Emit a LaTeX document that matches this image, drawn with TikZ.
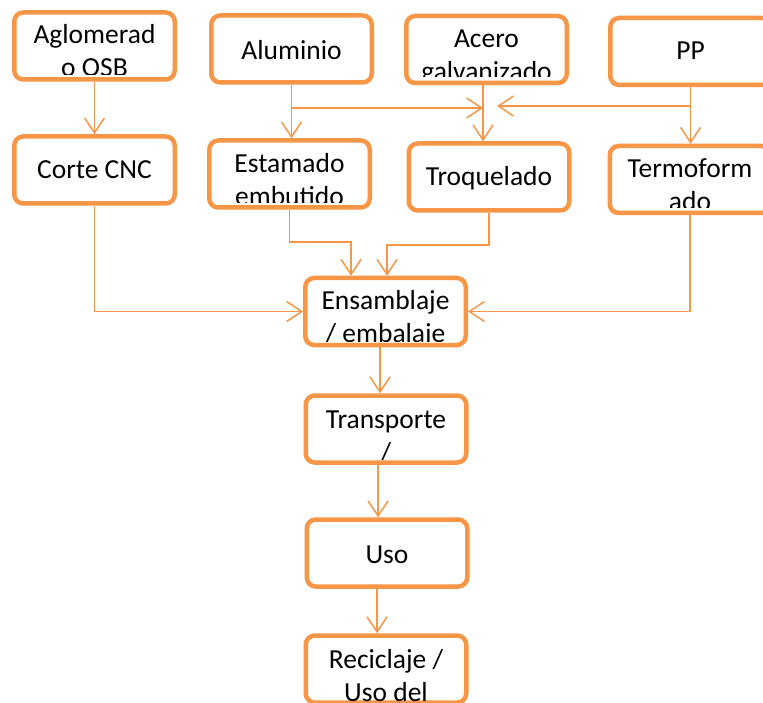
\documentclass[tikz,border=0pt]{standalone}
\usepackage{fontspec}
\setmainfont{Carlito}
\usetikzlibrary{arrows.meta}
\definecolor{accent}{HTML}{F79646}
\tikzset{
  procbox/.style={draw=accent, line width=4.5pt, rounded corners=9pt, fill=white,
    minimum width=160.5pt, minimum height=67pt, inner sep=0pt},
  boxtext/.style={font=\fontsize{27.5}{33}\selectfont, align=center,
    anchor=base, inner sep=0pt, text=black},
  flow/.style={draw=accent, line width=1.5pt,
    -{Straight Barb[length=15pt,width=20pt,line width=1.5pt]}},
}
% #1 name, #2 cx, #3 cy, #4 baseline of the last line, #5 lower clip edge, #6 text
\newcommand\procstep[6]{%
  \node[procbox] (#1) at (#2,#3) {};
  \begin{scope}
    \clip (#2-78,#3-32) rectangle (#2+78,#5);
    \node[boxtext] (#1-t) at (#2,#4) {#6};
  \end{scope}
}
\begin{document}
\begin{tikzpicture}[x=1pt,y=-1pt]
  \fill[white] (0,0) rectangle (763,703);
  \clip (0,0) rectangle (763,703);

  % raw materials
  \procstep{agl}{94.5}{46}{77}{75}{Aglomerad\\o OSB}
  \procstep{alu}{291.5}{49}{60}{78}{Aluminio}
  \procstep{ace}{486.5}{49.5}{81}{77}{Acero\\galvanizado}
  \procstep{pp}{690.5}{51.5}{60}{81}{PP}
  % forming processes
  \procstep{cnc}{94.5}{170}{179}{199}{Corte CNC}
  \procstep{est}{289.5}{174}{206}{203}{Estamado\\embutido}
  \procstep{tro}{489}{177}{186}{206}{Troquelado}
  \procstep{ter}{690}{179.5}{211}{208}{Termoform\\ado}
  % life-cycle chain
  \procstep{ens}{385.5}{311.5}{342}{341}{Ensamblaje\\/ embalaje}
  \procstep{tra}{386}{429}{461}{459}{Transporte\\/}
  \procstep{uso}{387}{553}{563}{583}{Uso}
  \procstep{rec}{386}{669}{701}{705}{Reciclaje /\\Uso del}

  % junction points
  \coordinate (alj) at (291.5,108);
  \coordinate (acj) at (483,108);
  \coordinate (ppj) at (690.5,106);
  \coordinate (ppe) at (497,106);
  \coordinate (estj) at (351,242);
  \coordinate (troj) at (387,245);
  \coordinate (xa) at (380,0);
  \coordinate (xb) at (378,0);
  \coordinate (xc) at (377,0);

  % connectors
  \draw[flow] (agl.south) -- (cnc.north);
  \draw[flow] (alu.south) -- (alu.south |- est.north);
  \draw[flow] (alj) -- (acj);
  \draw[flow] (ace.south -| acj) -- (tro.north -| acj);
  \draw[flow] (pp.south) -- (pp.south |- ter.north);
  \draw[flow] (ppj) -- (ppe);
  \draw[flow] (cnc.south) |- (ens.west);
  \draw[flow] (est.south) |- (estj) -- (estj |- ens.north);
  \draw[flow] (tro.south) |- (troj) -- (troj |- ens.north);
  \draw[flow] (ter.south) |- (ens.east);
  \draw[flow] (ens.south -| xa) -- (tra.north -| xa);
  \draw[flow] (tra.south -| xb) -- (uso.north -| xb);
  \draw[flow] (uso.south -| xc) -- (rec.north -| xc);
\end{tikzpicture}
\end{document}
